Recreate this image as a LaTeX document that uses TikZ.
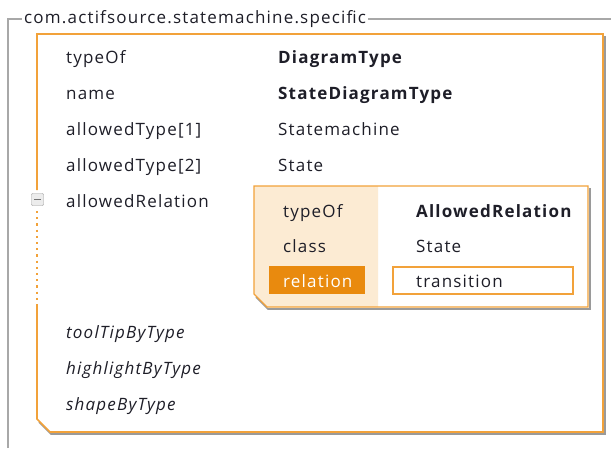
\documentclass[tikz,border=0pt]{standalone}
\usepackage{fontspec}
\setmainfont[LetterSpace=7]{Open Sans}
\definecolor{frameGray}{HTML}{A8A8A8}
\definecolor{boxOrange}{HTML}{F2A23A}
\definecolor{hiOrange}{HTML}{E98A0E}
\definecolor{beige}{HTML}{FCEBD3}
\definecolor{shadowGray}{HTML}{9A9A9A}
\definecolor{txt}{HTML}{1E1E28}
\tikzset{
  lbl/.style={anchor=base west, inner sep=0pt, text=txt, font=\fontsize{17}{20}\selectfont},
  val/.style={lbl, font=\fontsize{17}{20}\selectfont\bfseries},
  ital/.style={lbl, font=\fontsize{17}{20}\selectfont\itshape},
  obox/.style={draw=boxOrange, line width=1.6pt},
  shadowline/.style={draw=shadowGray, line width=1.6pt}
}
\begin{document}
\begin{tikzpicture}[x=1pt,y=-1pt]
\useasboundingbox[fill=white] (0,0) rectangle (611,448);
% gray frame
\node[lbl] (frametitle) at (24,23) {com.actifsource.statemachine.specific};
\draw[frameGray, line width=1.3pt] (8,448) -- (8,19) -- (22,19);
\draw[frameGray, line width=1.3pt] (frametitle.east |- 0,19) ++(2,0) -- (611,19);
% outer box shadow
\draw[shadowline] (605,36) -- (605,434) -- (51,434) -- (39,422);
\fill[white] (37,34) -- (603,34) -- (603,432) -- (50,432) -- (37,419) -- cycle;
\draw[obox] (37,190) -- (37,34) -- (603,34) -- (603,432) -- (50,432) -- (37,419) -- (37,306);
\draw[boxOrange, line width=1.6pt, dash pattern=on 2.2pt off 4pt] (37,211) -- (37,306);
% expand icon
\node[draw=gray!80, fill=gray!15, rounded corners=1pt, minimum width=12pt, minimum height=12pt, inner sep=0pt] (collapse) at (37.5,199.5) {};
\draw[gray!90!black, line width=1.2pt] ([xshift=-3.5pt]collapse.center) -- ([xshift=3.5pt]collapse.center);
% outer rows
\node[lbl] (l1) at (66,63) {typeOf};
\node[val] (v1) at (278,63) {DiagramType};
\node[lbl] (l2) at (66,99) {name};
\node[val] (v2) at (278,99) {StateDiagramType};
\node[lbl] (l3) at (66,135) {allowedType[1]};
\node[lbl] (v3) at (278,135) {Statemachine};
\node[lbl] (l4) at (66,171) {allowedType[2]};
\node[lbl] (v4) at (278,171) {State};
\node[lbl] (l5) at (66,207) {allowedRelation};
\node[ital] (l6) at (66,338) {toolTipByType};
\node[ital] (l7) at (66,374) {highlightByType};
\node[ital] (l8) at (66,410) {shapeByType};
% inner box
\draw[shadowline] (590,188) -- (590,309) -- (268,309) -- (256,297);
\fill[white] (254,186) -- (588,186) -- (588,307) -- (267,307) -- (254,294) -- cycle;
\fill[beige] (254,186) -- (378,186) -- (378,307) -- (267,307) -- (254,294) -- cycle;
\draw[obox, line width=1.3pt] (254,186) -- (588,186) -- (588,307) -- (267,307) -- (254,294) -- cycle;
\fill[hiOrange] (269,266) rectangle (365,294);
\draw[boxOrange, line width=1.3pt] (393,267) rectangle (573,294);
\node[lbl] (il1) at (283,217) {typeOf};
\node[val] (iv1) at (416,217) {AllowedRelation};
\node[lbl] (il2) at (283,252) {class};
\node[lbl] (iv2) at (416,252) {State};
\node[lbl, text=white] (il3) at (283,287) {relation};
\node[lbl] (iv3) at (416,287) {transition};
\end{tikzpicture}
\end{document}
